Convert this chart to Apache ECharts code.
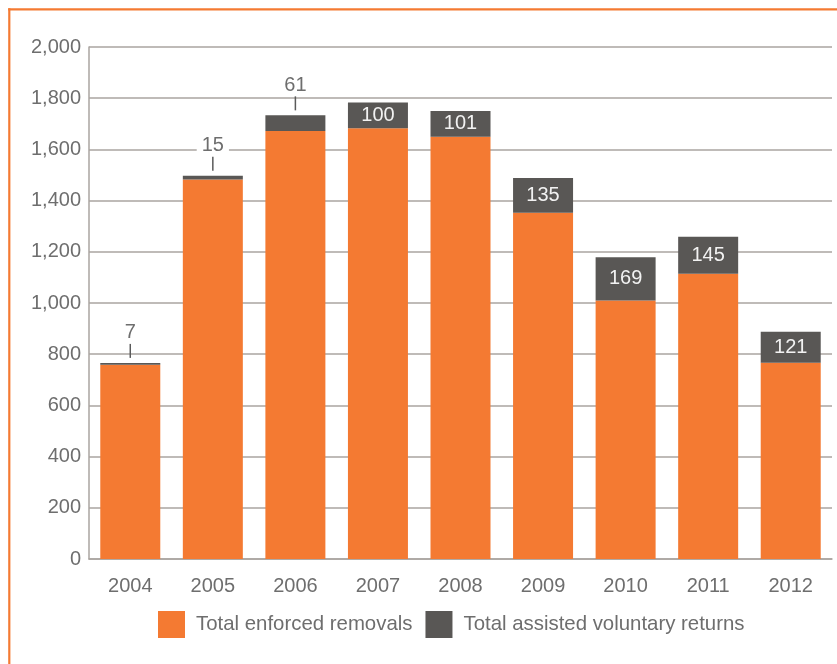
<!DOCTYPE html>
<html><head><meta charset="utf-8">
<script src="https://cdn.jsdelivr.net/npm/echarts@6/dist/echarts.min.js"></script>
<style>html,body{margin:0;padding:0;background:#fff}#c{width:837px;height:664px}</style>
</head><body><div id="c"></div>
<script>
const years = ['2004','2005','2006','2007','2008','2009','2010','2011','2012'];
const enforcedRemovals = [759, 1482, 1672, 1683, 1649, 1353, 1010, 1114, 767];
const voluntaryReturns = [7, 15, 61, 100, 101, 135, 169, 145, 121];
const yTicks = {min: 0, max: 2000, interval: 200};

const FONT = 'Liberation Sans';
const TXT = '#6e6e6e';
const ORANGE = '#F47A32';
const GREY = '#595755';
const GRID = '#aaa5a0';

const outsideIdx = voluntaryReturns.map((v, i) => v < 80 ? i : -1).filter(i => i >= 0);
const leaderData = outsideIdx.map(i => [i, enforcedRemovals[i] + voluntaryReturns[i]]);

const chart = echarts.init(document.getElementById('c'), null, {renderer: 'canvas'});
chart.setOption({
  animation: false,
  textStyle: {fontFamily: FONT},
  graphic: [
    {type: 'line', shape: {x1: 8.2, y1: 9.3, x2: 837, y2: 9.3}, style: {stroke: ORANGE, lineWidth: 2.2}},
    {type: 'line', shape: {x1: 9.3, y1: 8.2, x2: 9.3, y2: 664}, style: {stroke: ORANGE, lineWidth: 2.2}}
  ],
  grid: {left: 89, right: 5, top: 47, bottom: 105, containLabel: false},
  legend: {
    left: 158, top: 611, padding: 0, itemWidth: 27, itemHeight: 27, itemGap: 13,
    icon: 'rect',
    textStyle: {fontFamily: FONT, fontSize: 20.4, color: TXT, padding: [4, 0, 0, 6]},
    data: ['Total enforced removals', 'Total assisted voluntary returns']
  },
  xAxis: {
    type: 'category', data: years,
    axisLine: {show: true, lineStyle: {color: GRID, width: 1.5}},
    axisTick: {show: false},
    axisLabel: {fontFamily: FONT, fontSize: 20, color: TXT, margin: 17}
  },
  yAxis: {
    type: 'value', min: yTicks.min, max: yTicks.max, interval: yTicks.interval,
    axisLine: {show: true, lineStyle: {color: GRID, width: 1.5}},
    axisTick: {show: false},
    splitLine: {show: true, lineStyle: {color: GRID, width: 1.5}},
    axisLabel: {fontFamily: FONT, fontSize: 20, color: TXT, margin: 8,
      formatter: v => v.toLocaleString('en-US')}
  },
  series: [
    {
      name: 'Total enforced removals', type: 'bar', stack: 'all', barWidth: 60,
      itemStyle: {color: ORANGE}, data: enforcedRemovals
    },
    {
      name: 'Total assisted voluntary returns', type: 'bar', stack: 'all', barWidth: 60,
      itemStyle: {color: GREY},
      data: voluntaryReturns.map((v, i) => {
        const outside = outsideIdx.includes(i);
        return {
          value: v,
          label: outside ? {
            show: true, position: 'top', distance: 20, color: TXT,
            backgroundColor: '#fff', padding: [0, 5], fontSize: 20, fontFamily: FONT
          } : {
            show: true, position: 'inside', color: '#f2f2f2', fontSize: 20, fontFamily: FONT
          }
        };
      })
    },
    {
      type: 'custom', silent: true, z: 5, data: leaderData,
      renderItem: (params, api) => {
        const p = api.coord([api.value(0), api.value(1)]);
        return {type: 'line', shape: {x1: p[0], y1: p[1] - 19, x2: p[0], y2: p[1] - 5},
          style: {stroke: '#5a5a5a', lineWidth: 1.5}};
      }
    }
  ]
});
</script></body></html>
